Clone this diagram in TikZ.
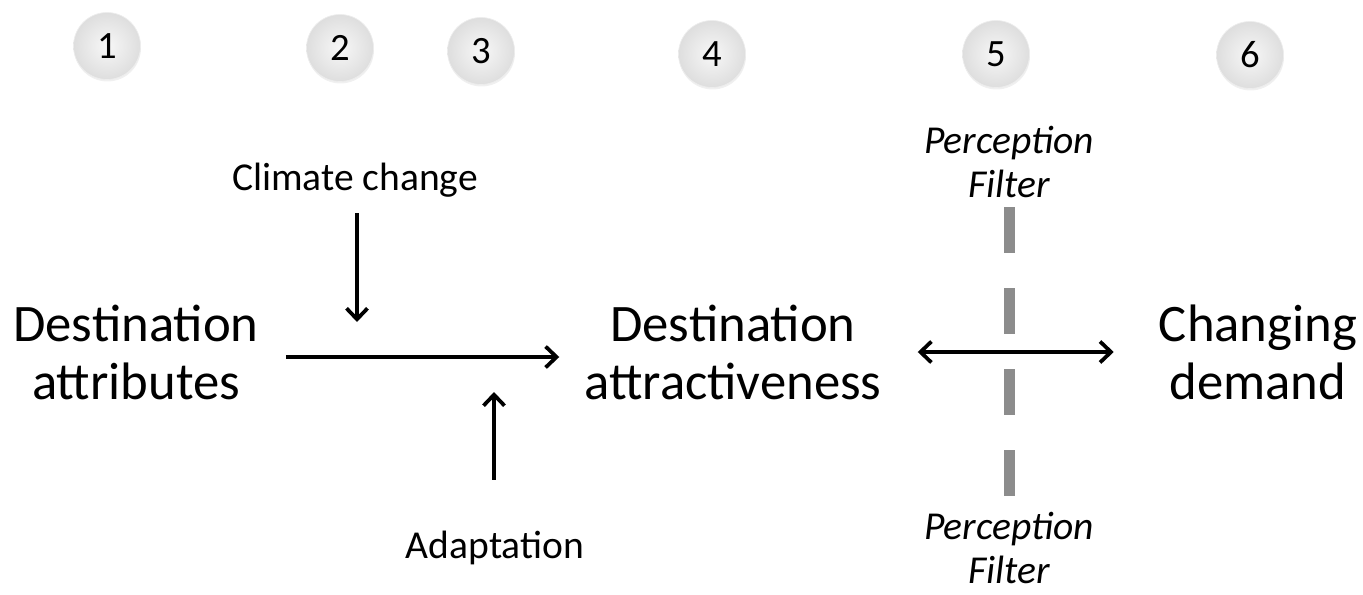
\documentclass[tikz,border=0pt]{standalone}
\usepackage{fontspec}
\setmainfont{Carlito}
\usetikzlibrary{positioning, arrows.meta, shadows}

\begin{document}
\begin{tikzpicture}[x=0.02cm, y=-0.02cm,
    bigtext/.style={font=\fontsize{30}{33}\selectfont, align=center},
    smalltext/.style={font=\fontsize{22.5}{25}\selectfont, align=center},
    filtertext/.style={font=\fontsize{22.5}{25.5}\selectfont\itshape, align=center},
    numball/.style={circle, minimum size=1.34cm, inner sep=0pt, draw=black!7,
      inner color=black!3, outer color=black!13, font=\fontsize{22}{24}\selectfont,
      drop shadow={opacity=0.12, shadow xshift=0.01cm, shadow yshift=-0.04cm}},
    arr/.style={-{Straight Barb[length=0.22cm, width=0.42cm]}, line width=0.075cm},
    filterline/.style={line width=0.22cm, black!45, dash pattern=on 0.92cm off 0.7cm}]
    \useasboundingbox (0,0) rectangle (1363,595);

    % Numbered stages
    \foreach \n/\x/\y in {1/107/46, 2/340/48, 3/481/51, 4/712/54, 5/996/54, 6/1250/55} {
      \node[numball] (num\n) at (\x,\y) {\n};
    }

    % Main labels
    \node[bigtext] (attr) at (136,352) {Destination\\attributes};
    \node[bigtext] (attract) at (733,352) {Destination\\attractiveness};
    \node[bigtext] (demand) at (1258,352) {Changing\\demand};

    % Influences
    \node[smalltext] (climate) at (355,180) {Climate change};
    \node[smalltext] (adapt) at (495,548) {Adaptation};
    \node[filtertext] (filtertop) at (1009,162) {Perception\\Filter};
    \node[filtertext] (filterbot) at (1009,548) {Perception\\Filter};

    \coordinate (downtip) at (357,322);
    \coordinate (uptip) at (494,392);

    % Arrows
    \draw[arr] ([xshift=0.42cm,yshift=-0.1cm]attr.east) -- ([xshift=-0.38cm,yshift=-0.1cm]attract.west);
    \draw[arr, shorten <=0.2cm] (climate.south -| downtip) -- (downtip);
    \draw[arr, shorten <=0.9cm] (adapt.north -| uptip) -- (uptip);
    \draw[{Straight Barb[length=0.22cm, width=0.42cm]}-{Straight Barb[length=0.22cm, width=0.42cm]}, line width=0.075cm]
      ([xshift=0.6cm]attract.east) -- ([xshift=-0.78cm]demand.west);

    % Filter line
    \draw[filterline, shorten <=0.06cm] (filtertop.south) -- (filterbot.north);

\end{tikzpicture}
\end{document}
